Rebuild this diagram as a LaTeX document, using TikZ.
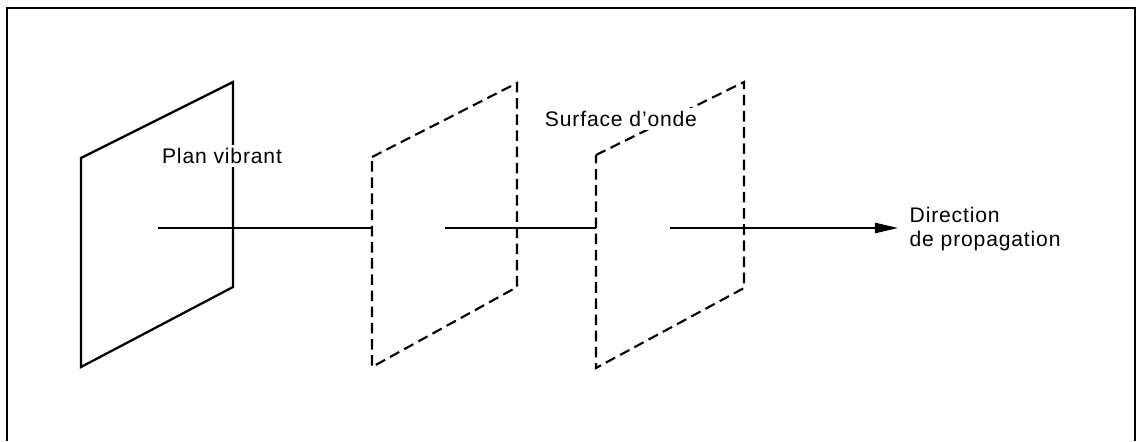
\documentclass[tikz,border=0pt]{standalone}
\usepackage{fontspec}
\setmainfont{Liberation Sans}[LetterSpace=4.0]
\usetikzlibrary{arrows.meta}

\begin{document}
\begin{tikzpicture}[
  x=0.025cm, y=-0.025cm,
  frame/.style={line width=1.5pt},
  plane/.style={line width=1.6pt, line join=miter},
  wave/.style={line width=1.5pt, dash pattern=on 7.5pt off 4pt},
  axis/.style={line width=1pt},
  arrow/.style={axis, -{Triangle[length=5.8mm, width=2.6mm]}},
  lbl/.style={fill=white, inner sep=2pt, font=\fontsize{15}{17.5}\selectfont}
]
\useasboundingbox (0,0) rectangle (1138,441);
\draw[frame] (7,441) -- (7,8) -- (1135,8) -- (1135,441);

% vibrating plane and the two wave surfaces
\coordinate (p1a) at (81,158);  \coordinate (p1b) at (233,82);
\coordinate (p1c) at (233,287); \coordinate (p1d) at (81,367);
\coordinate (p2a) at (372,157); \coordinate (p2b) at (517,83);
\coordinate (p2c) at (517,287); \coordinate (p2d) at (372,367);
\coordinate (p3a) at (596,155); \coordinate (p3b) at (744,82);
\coordinate (p3c) at (744,288); \coordinate (p3d) at (596,368);

% axis
\coordinate (s1) at (158,228); \coordinate (e1) at (372,228);
\coordinate (s2) at (445,228); \coordinate (e2) at (596,228);
\coordinate (s3) at (670,228); \coordinate (e3) at (898,228);

\draw[axis] (s1) -- (e1);
\draw[axis] (s2) -- (e2);
\draw[arrow] (s3) -- (e3);

\draw[plane] (p1a) -- (p1b) -- (p1c) -- (p1d) -- cycle;
\draw[wave] (p2a) -- (p2b) -- (p2c) -- (p2d) -- cycle;
\draw[wave] (p3a) -- (p3b) -- (p3c) -- (p3d) -- cycle;

\node[lbl] (vibrant) at (222,156) {Plan vibrant};
\node[lbl] (onde) at (621,119) {Surface d’onde};
\node[lbl, anchor=west, align=left, inner sep=1pt, fill=none] (dir) at (908,229)
  {Direction\\de propagation};
\end{tikzpicture}
\end{document}
